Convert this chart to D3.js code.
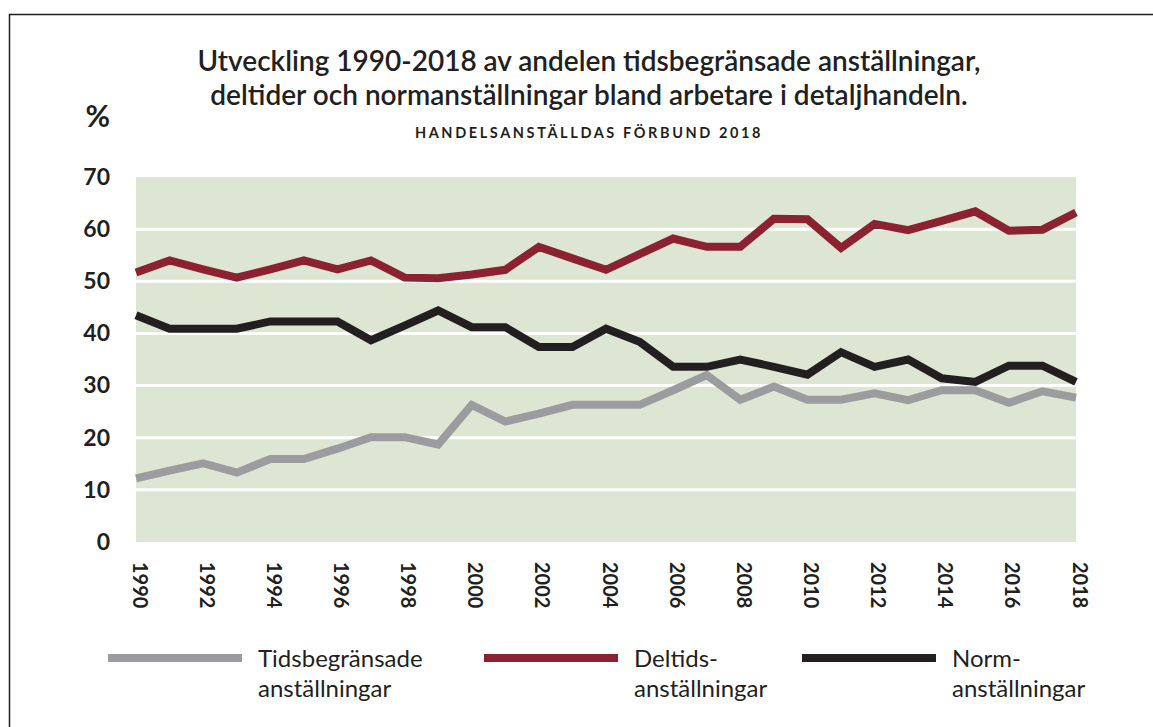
<!DOCTYPE html>
<html>
<head>
<meta charset="utf-8">
<script src="https://cdn.jsdelivr.net/npm/d3@7"></script>
<style>
  body { margin: 0; background: #fff; }
  svg { display: block; }
  text { font-family: Lato, "Open Sans", sans-serif; fill: #231f20; }
</style>
</head>
<body>
<div id="chart"></div>
<script>
// years along x
var years = d3.range(1990, 2019);

// % of workers
var tidsbegransade = [12.2, 13.7, 15.1, 13.3, 15.9, 15.9, 17.9, 20.1, 20.1, 18.7,
  26.3, 23.1, 24.6, 26.3, 26.3, 26.3, 29.1, 32.0, 27.3, 29.8,
  27.3, 27.3, 28.5, 27.2, 29.1, 29.1, 26.7, 28.9, 27.7];
var deltids = [51.7, 54.0, 52.3, 50.7, 52.3, 54.0, 52.3, 54.0, 50.7, 50.6,
  51.3, 52.2, 56.6, 54.4, 52.2, 55.2, 58.2, 56.6, 56.6, 62.0,
  61.9, 56.4, 61.0, 59.8, 61.6, 63.4, 59.7, 59.9, 63.2];
var norm = [43.5, 40.9, 40.9, 40.9, 42.3, 42.3, 42.3, 38.7, 41.5, 44.4,
  41.2, 41.2, 37.4, 37.4, 40.9, 38.4, 33.6, 33.6, 35.0, 33.6,
  32.1, 36.4, 33.6, 35.0, 31.4, 30.7, 33.8, 33.8, 30.7];

var yTicks = [0, 10, 20, 30, 40, 50, 60, 70];
var xTicks = d3.range(1990, 2019, 2);

var legendLabels = [["Tidsbegränsade", "anställningar"], ["Deltids-", "anställningar"], ["Norm-", "anställningar"]];
var seriesColors = ["#9b9ca0", "#8b2131", "#231f20"];

function main() {
  var width = 1153, height = 727;

  var svg = d3.select("#chart").append("svg")
    .attr("width", width)
    .attr("height", height);

  // outer frame (top + left edge)
  svg.append("path")
    .attr("d", "M9.5,727 L9.5,14.5 L1153,14.5")
    .attr("fill", "none")
    .attr("stroke", "#231f20")
    .attr("stroke-width", 1.5);

  // titles
  svg.append("text")
    .attr("x", 589).attr("y", 71)
    .attr("text-anchor", "middle")
    .style("font-size", "28px").style("font-weight", 600)
    .text("Utveckling 1990-2018 av andelen tidsbegränsade anställningar,");
  svg.append("text")
    .attr("x", 589).attr("y", 105)
    .attr("text-anchor", "middle")
    .style("font-size", "28px").style("font-weight", 600)
    .text("deltider och normanställningar bland arbetare i detaljhandeln.");
  svg.append("text")
    .attr("x", 589).attr("y", 138)
    .attr("text-anchor", "middle")
    .style("font-size", "14.5px").style("font-weight", 700)
    .style("letter-spacing", "2.6px")
    .text("HANDELSANSTÄLLDAS FÖRBUND 2018");

  var x = d3.scaleLinear().domain([1990, 2018]).range([136, 1076]);
  var y = d3.scaleLinear().domain([0, 70]).range([542, 177]);

  // plot background
  svg.append("rect")
    .attr("x", x(1990)).attr("y", y(70))
    .attr("width", x(2018) - x(1990))
    .attr("height", y(0) - y(70))
    .attr("fill", "#dce6d3");

  // white grid lines
  svg.selectAll(".grid")
    .data(yTicks.filter(d => d > 0 && d < 70))
    .enter().append("line")
    .attr("x1", x(1990)).attr("x2", x(2018))
    .attr("y1", d => y(d)).attr("y2", d => y(d))
    .attr("stroke", "#fff").attr("stroke-width", 3);

  // y axis
  var yAxis = svg.append("g")
    .attr("transform", "translate(110,0)")
    .call(d3.axisLeft(y).tickValues(yTicks).tickSize(0).tickPadding(0));
  yAxis.select(".domain").remove();
  yAxis.selectAll("text")
    .style("font-family", "Lato, sans-serif")
    .style("font-size", "23px").style("font-weight", 700)
    .attr("fill", "#231f20");

  svg.append("text")
    .attr("x", 110).attr("y", 127)
    .attr("text-anchor", "end")
    .style("font-size", "30px").style("font-weight", 700)
    .text("%");

  // x axis, labels turned to read downwards
  var xAxis = svg.append("g")
    .attr("transform", "translate(3,562)")
    .call(d3.axisBottom(x).tickValues(xTicks).tickFormat(d3.format("d")).tickSize(0).tickPadding(0));
  xAxis.select(".domain").remove();
  xAxis.selectAll("text")
    .style("font-family", "Lato, sans-serif")
    .style("font-size", "20px").style("font-weight", 700)
    .attr("fill", "#231f20")
    .attr("y", 0).attr("dy", "0.35em")
    .attr("text-anchor", "start")
    .attr("transform", "rotate(90)");

  // lines
  var line = d3.line()
    .x((d, i) => x(years[i]))
    .y(d => y(d));

  var allSeries = [tidsbegransade, deltids, norm];
  svg.selectAll(".series")
    .data(allSeries)
    .enter().append("path")
    .attr("d", line)
    .attr("fill", "none")
    .attr("stroke", (d, i) => seriesColors[i])
    .attr("stroke-width", 8)
    .attr("stroke-linejoin", "miter");

  // legend
  var legendX = [108, 484, 802];
  var lg = svg.selectAll(".legend")
    .data(legendLabels)
    .enter().append("g")
    .attr("transform", (d, i) => "translate(" + legendX[i] + ",0)");
  lg.append("line")
    .attr("x1", 0).attr("x2", 134)
    .attr("y1", 658).attr("y2", 658)
    .attr("stroke", (d, i) => seriesColors[i])
    .attr("stroke-width", 8);
  lg.append("text")
    .attr("x", 150).attr("y", 667)
    .style("font-size", "24px").style("font-weight", 400)
    .text(d => d[0]);
  lg.append("text")
    .attr("x", 150).attr("y", 697)
    .style("font-size", "24px").style("font-weight", 400)
    .text(d => d[1]);
}

document.addEventListener("DOMContentLoaded", main);
</script>
</body>
</html>
